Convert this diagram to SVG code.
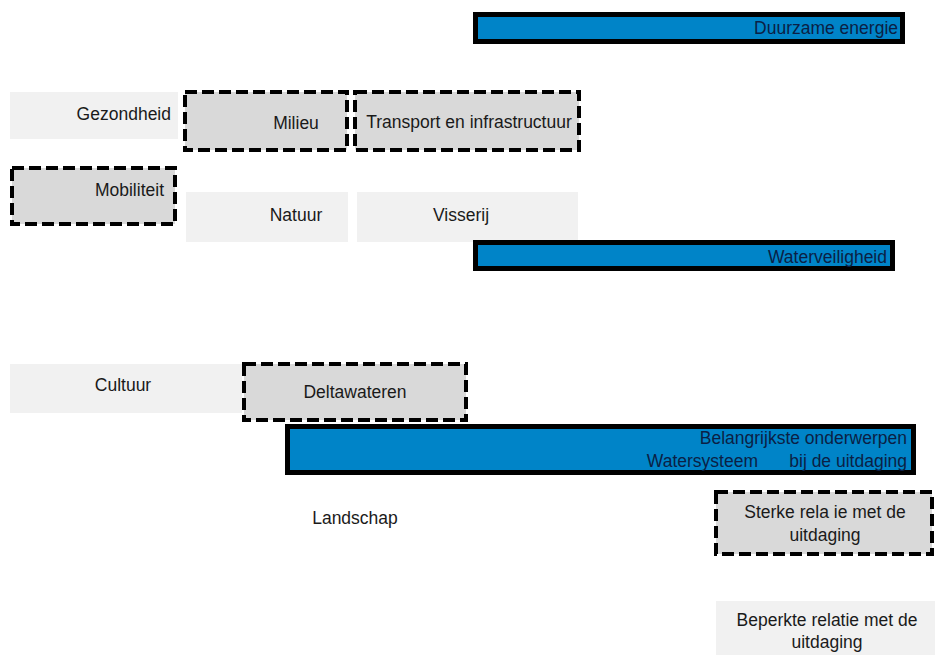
<svg xmlns="http://www.w3.org/2000/svg" width="935" height="655" viewBox="0 0 935 655">
<style>
text{font-family:"Liberation Sans",Arial,sans-serif;font-size:17.5px;fill:#1a1a1a}
.light{fill:#f1f1f1;stroke:none}
.dash{fill:#d9d9d9;stroke:#000;stroke-width:4;stroke-dasharray:12 5}
.blue{fill:#0084c8;stroke:#000;stroke-width:5}
.bt{fill:#0b1f45}
.e{text-anchor:end}
.m{text-anchor:middle}
</style>
<rect width="935" height="655" fill="#fff"/>
<g id="duurzame-energie">
<rect class="blue" x="475.5" y="14.5" width="427" height="27"/>
<text class="bt e" x="898" y="34">Duurzame energie</text>
</g>
<g id="gezondheid">
<rect class="light" x="10" y="92" width="168" height="47"/>
<text class="e" x="171" y="120">Gezondheid</text>
</g>
<g id="milieu">
<rect class="dash" x="185" y="92" width="162" height="58"/>
<text class="m" x="296" y="129">Milieu</text>
</g>
<g id="transport">
<rect class="dash" x="355" y="92" width="224" height="58"/>
<text class="m" x="469" y="128">Transport en infrastructuur</text>
</g>
<g id="mobiliteit">
<rect class="dash" x="12" y="168" width="163" height="56"/>
<text class="e" x="164" y="196">Mobiliteit</text>
</g>
<g id="natuur">
<rect class="light" x="186" y="192" width="162" height="50"/>
<text class="m" x="296" y="221">Natuur</text>
</g>
<g id="visserij">
<rect class="light" x="357" y="192" width="221" height="50"/>
<text class="m" x="461" y="221">Visserij</text>
</g>
<g id="waterveiligheid">
<rect class="blue" x="475.5" y="242.5" width="417" height="26"/>
<text class="bt e" x="887" y="263">Waterveiligheid</text>
</g>
<g id="cultuur">
<rect class="light" x="10" y="364" width="232" height="49"/>
<text class="m" x="123" y="391">Cultuur</text>
</g>
<g id="deltawateren">
<rect class="dash" x="244" y="364" width="222" height="56"/>
<text class="m" x="355" y="398">Deltawateren</text>
</g>
<g id="watersysteem">
<rect class="blue" x="287.5" y="426.5" width="626" height="46"/>
<text class="bt e" x="907" y="444">Belangrijkste onderwerpen</text>
<text class="bt e" x="758" y="467">Watersysteem</text>
<text class="bt e" x="907" y="467">bij de uitdaging</text>
</g>
<g id="landschap">
<text class="m" x="355" y="524">Landschap</text>
</g>
<g id="sterke-relatie">
<rect class="dash" x="716" y="492" width="216" height="62"/>
<text class="m" x="825" y="518">Sterke rela ie met de</text>
<text class="m" x="825" y="541">uitdaging</text>
</g>
<g id="beperkte-relatie">
<rect class="light" x="716" y="601" width="219" height="54"/>
<text class="m" x="827" y="626">Beperkte relatie met de</text>
<text class="m" x="827" y="648">uitdaging</text>
</g>
<g id="connectors"/>
</svg>
